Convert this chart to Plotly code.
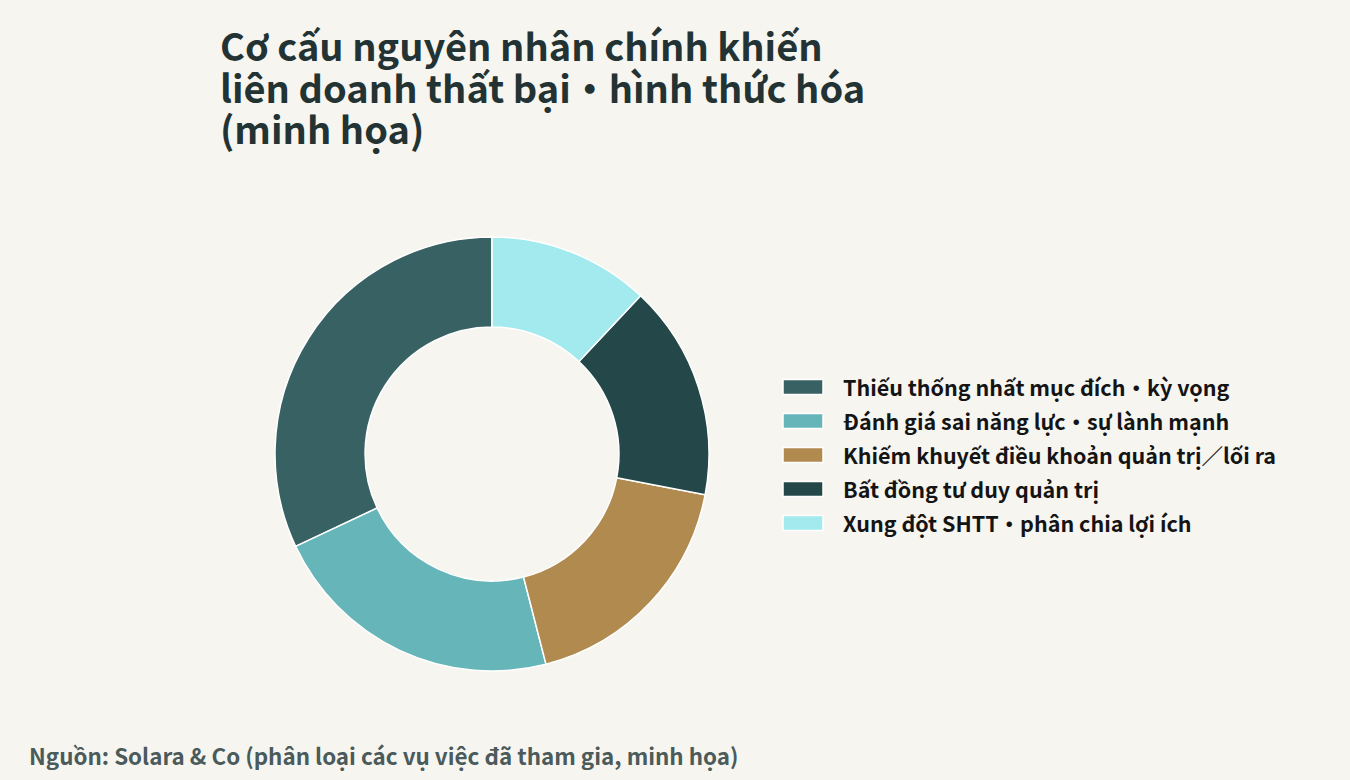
import plotly.graph_objects as go

# data
labels = [
    "Thiếu thống nhất mục đích・kỳ vọng",
    "Đánh giá sai năng lực・sự lành mạnh",
    "Khiếm khuyết điều khoản quản trị／lối ra",
    "Bất đồng tư duy quản trị",
    "Xung đột SHTT・phân chia lợi ích",
]
values = [32, 22, 18, 16, 12]
colors = ["#386163", "#66B6B9", "#B08A4E", "#244849", "#A2EAEE"]

title_lines = [
    "Cơ cấu nguyên nhân chính khiến",
    "liên doanh thất bại・hình thức hóa",
    "(minh họa)",
]
source = "Nguồn: Solara & Co (phân loại các vụ việc đã tham gia, minh họa)"

W, H = 1350, 780
FONT = "Noto Sans CJK JP"
BG = "#F6F5F0"


def px(x):
    return x / W


def py(y):
    return 1 - y / H


# first slice should start at 12 o'clock and run counterclockwise
first_angle = 360 * values[0] / sum(values)

fig = go.Figure()
fig.add_trace(go.Pie(
    labels=labels,
    values=values,
    hole=0.585,
    sort=False,
    direction="counterclockwise",
    rotation=-first_angle,
    marker=dict(colors=colors, line=dict(color="white", width=1.5)),
    textinfo="none",
    hoverinfo="label+percent",
    domain=dict(x=[0, px(984)], y=[py(671), py(237)]),
    showlegend=False,
))

# title, one annotation per line
for i, line in enumerate(title_lines):
    fig.add_annotation(
        x=px(218), y=py(44 + 42 * i), xref="paper", yref="paper",
        xanchor="left", yanchor="middle", showarrow=False,
        text=f"<b>{line}</b>",
        font=dict(family=FONT, size=38, color="#233333"),
    )

# legend drawn by hand to get the wide swatches
for i, (lab, col) in enumerate(zip(labels, colors)):
    yc = 387 + 34 * i
    fig.add_shape(
        type="rect", xref="paper", yref="paper",
        x0=px(783), x1=px(823), y0=py(yc + 7.5), y1=py(yc - 7.5),
        fillcolor=col, line=dict(color="white", width=1.5),
    )
    fig.add_annotation(
        x=px(841), y=py(yc - 1), xref="paper", yref="paper",
        xanchor="left", yanchor="middle", showarrow=False,
        text=f"<b>{lab}</b>",
        font=dict(family=FONT, size=21.5, color="#141414"),
    )

fig.add_annotation(
    x=px(27), y=py(755), xref="paper", yref="paper",
    xanchor="left", yanchor="middle", showarrow=False,
    text=f"<b>{source}</b>",
    font=dict(family=FONT, size=22.4, color="#4B5A5A"),
)

fig.update_layout(
    width=W, height=H,
    paper_bgcolor=BG, plot_bgcolor=BG,
    margin=dict(l=0, r=0, t=0, b=0),
    showlegend=False,
)

fig.write_html("out.html", config={"displayModeBar": False},
               post_script="document.body.style.margin='0';")
